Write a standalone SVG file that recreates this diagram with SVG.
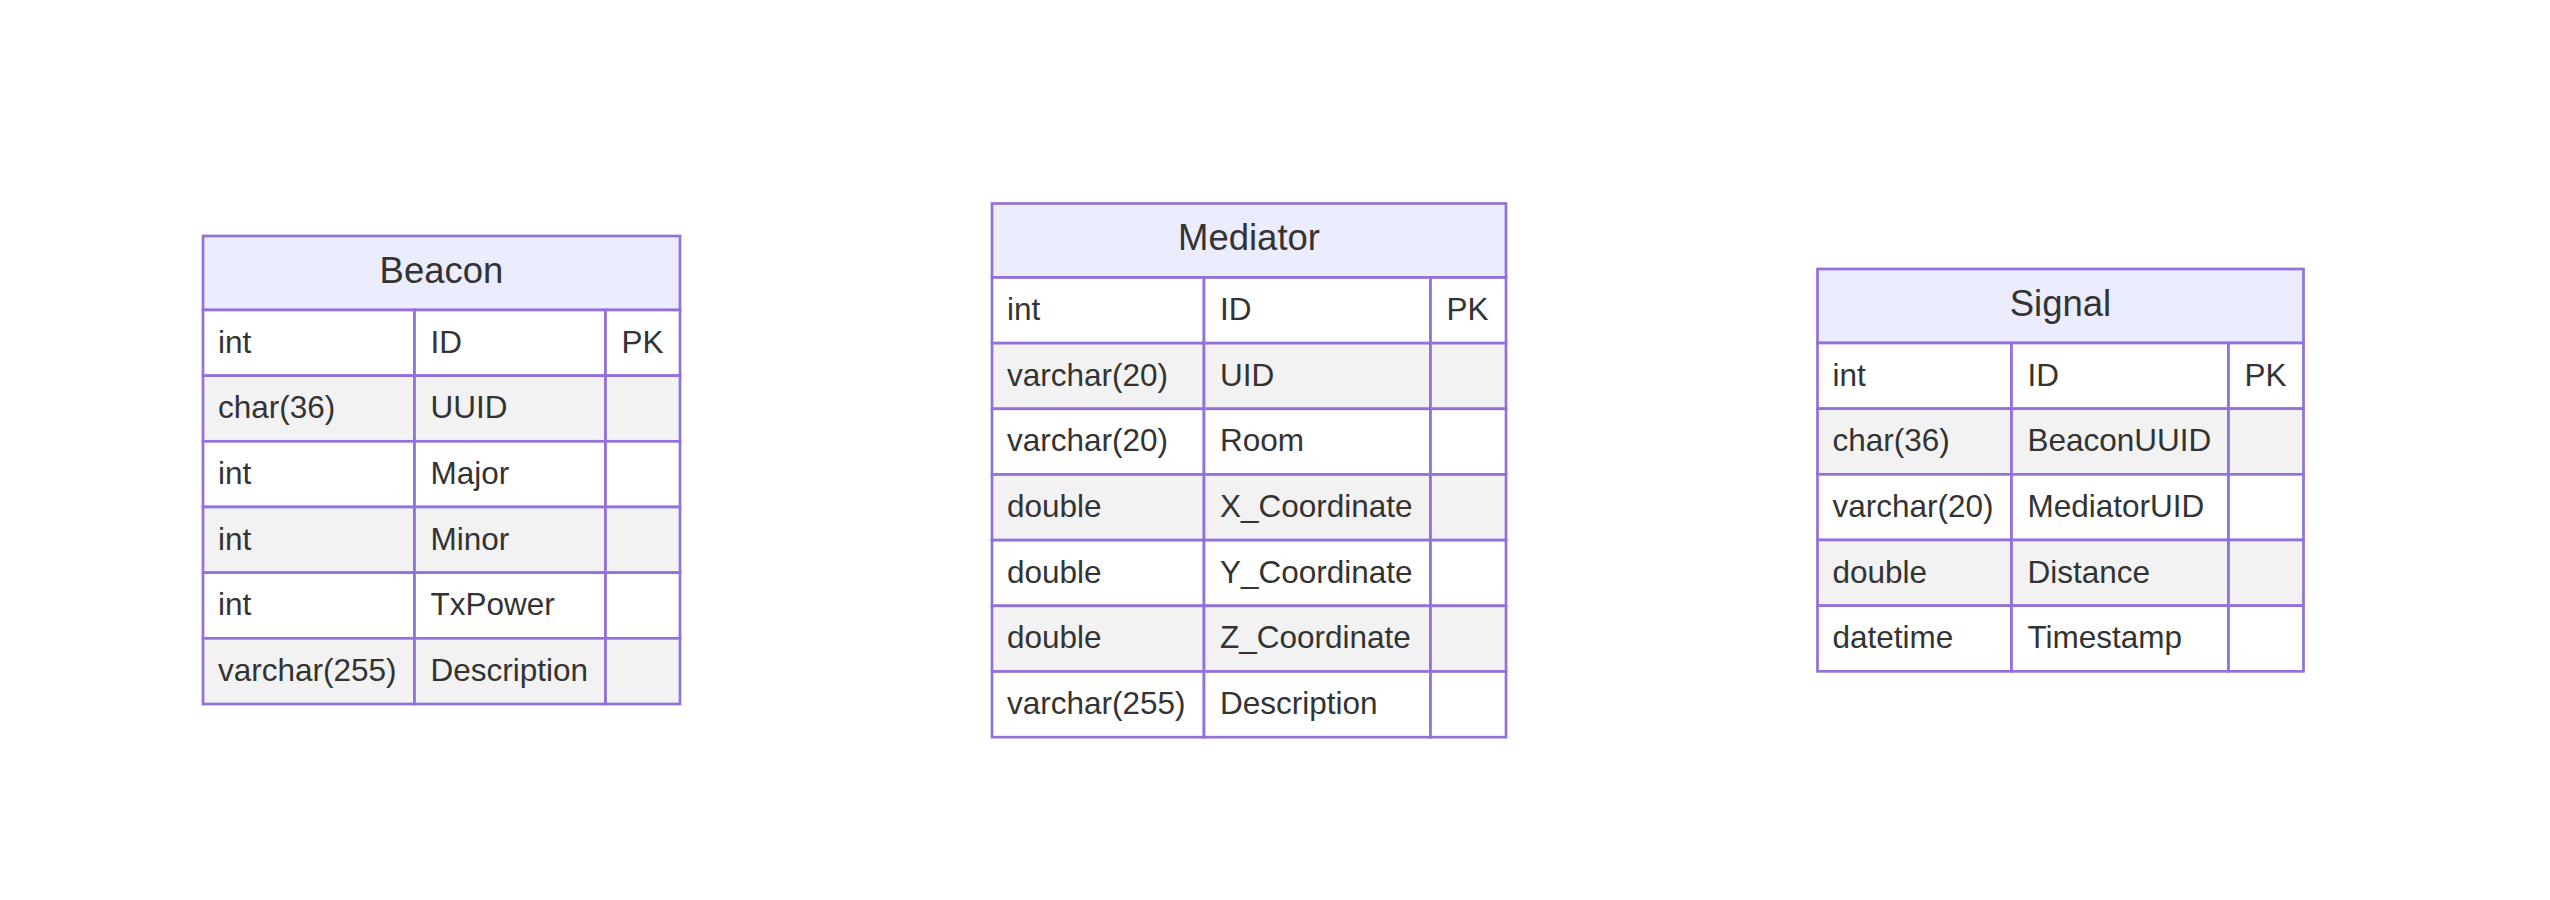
<svg xmlns="http://www.w3.org/2000/svg" width="2550" height="900" viewBox="0 0 2550 900">
<style>
.h{fill:#ECECFF;stroke:#9370DB;stroke-width:2.7}
.w{fill:#FFFFFF;stroke:#9370DB;stroke-width:2.7}
.g{fill:#F2F2F2;stroke:#9370DB;stroke-width:2.7}
.tt{font-family:"Liberation Sans",Arial,sans-serif;font-size:36.5px;fill:#333333;text-anchor:middle}
.t{font-family:"Liberation Sans",Arial,sans-serif;font-size:31.5px;fill:#333333}
</style>
<rect width="2550" height="900" fill="#FFFFFF"/>
<g id="connectors"/>
<g id="Beacon">
<rect class="h" x="203" y="236" width="477" height="74"/>
<text class="tt" x="441.5" y="282.5">Beacon</text>
<rect class="w" x="203" y="310" width="211.5" height="65.67"/><rect class="w" x="414.5" y="310" width="191" height="65.67"/><rect class="w" x="605.5" y="310" width="74.5" height="65.67"/>
<rect class="g" x="203" y="375.67" width="211.5" height="65.67"/><rect class="g" x="414.5" y="375.67" width="191" height="65.67"/><rect class="g" x="605.5" y="375.67" width="74.5" height="65.67"/>
<rect class="w" x="203" y="441.33" width="211.5" height="65.67"/><rect class="w" x="414.5" y="441.33" width="191" height="65.67"/><rect class="w" x="605.5" y="441.33" width="74.5" height="65.67"/>
<rect class="g" x="203" y="507" width="211.5" height="65.67"/><rect class="g" x="414.5" y="507" width="191" height="65.67"/><rect class="g" x="605.5" y="507" width="74.5" height="65.67"/>
<rect class="w" x="203" y="572.67" width="211.5" height="65.67"/><rect class="w" x="414.5" y="572.67" width="191" height="65.67"/><rect class="w" x="605.5" y="572.67" width="74.5" height="65.67"/>
<rect class="g" x="203" y="638.33" width="211.5" height="65.67"/><rect class="g" x="414.5" y="638.33" width="191" height="65.67"/><rect class="g" x="605.5" y="638.33" width="74.5" height="65.67"/>
<text class="t" x="218" y="352.5">int</text><text class="t" x="430.5" y="352.5">ID</text><text class="t" x="621.5" y="352.5">PK</text>
<text class="t" x="218" y="418.2">char(36)</text><text class="t" x="430.5" y="418.2">UUID</text>
<text class="t" x="218" y="483.8">int</text><text class="t" x="430.5" y="483.8">Major</text>
<text class="t" x="218" y="549.5">int</text><text class="t" x="430.5" y="549.5">Minor</text>
<text class="t" x="218" y="615.2">int</text><text class="t" x="430.5" y="615.2">TxPower</text>
<text class="t" x="218" y="680.8">varchar(255)</text><text class="t" x="430.5" y="680.8">Description</text>
</g>
<g id="Mediator">
<rect class="h" x="992" y="203.5" width="514" height="74"/>
<text class="tt" x="1249" y="250">Mediator</text>
<rect class="w" x="992" y="277.5" width="212" height="65.67"/><rect class="w" x="1204" y="277.5" width="226.5" height="65.67"/><rect class="w" x="1430.5" y="277.5" width="75.5" height="65.67"/>
<rect class="g" x="992" y="343.17" width="212" height="65.67"/><rect class="g" x="1204" y="343.17" width="226.5" height="65.67"/><rect class="g" x="1430.5" y="343.17" width="75.5" height="65.67"/>
<rect class="w" x="992" y="408.83" width="212" height="65.67"/><rect class="w" x="1204" y="408.83" width="226.5" height="65.67"/><rect class="w" x="1430.5" y="408.83" width="75.5" height="65.67"/>
<rect class="g" x="992" y="474.5" width="212" height="65.67"/><rect class="g" x="1204" y="474.5" width="226.5" height="65.67"/><rect class="g" x="1430.5" y="474.5" width="75.5" height="65.67"/>
<rect class="w" x="992" y="540.17" width="212" height="65.67"/><rect class="w" x="1204" y="540.17" width="226.5" height="65.67"/><rect class="w" x="1430.5" y="540.17" width="75.5" height="65.67"/>
<rect class="g" x="992" y="605.83" width="212" height="65.67"/><rect class="g" x="1204" y="605.83" width="226.5" height="65.67"/><rect class="g" x="1430.5" y="605.83" width="75.5" height="65.67"/>
<rect class="w" x="992" y="671.5" width="212" height="65.67"/><rect class="w" x="1204" y="671.5" width="226.5" height="65.67"/><rect class="w" x="1430.5" y="671.5" width="75.5" height="65.67"/>
<text class="t" x="1007" y="320">int</text><text class="t" x="1220" y="320">ID</text><text class="t" x="1446.5" y="320">PK</text>
<text class="t" x="1007" y="385.7">varchar(20)</text><text class="t" x="1220" y="385.7">UID</text>
<text class="t" x="1007" y="451.3">varchar(20)</text><text class="t" x="1220" y="451.3">Room</text>
<text class="t" x="1007" y="517">double</text><text class="t" x="1220" y="517">X_Coordinate</text>
<text class="t" x="1007" y="582.7">double</text><text class="t" x="1220" y="582.7">Y_Coordinate</text>
<text class="t" x="1007" y="648.3">double</text><text class="t" x="1220" y="648.3">Z_Coordinate</text>
<text class="t" x="1007" y="714">varchar(255)</text><text class="t" x="1220" y="714">Description</text>
</g>
<g id="Signal">
<rect class="h" x="1817.5" y="269" width="486" height="74"/>
<text class="tt" x="2060.5" y="315.5">Signal</text>
<rect class="w" x="1817.5" y="343" width="194" height="65.67"/><rect class="w" x="2011.5" y="343" width="217" height="65.67"/><rect class="w" x="2228.5" y="343" width="75" height="65.67"/>
<rect class="g" x="1817.5" y="408.67" width="194" height="65.67"/><rect class="g" x="2011.5" y="408.67" width="217" height="65.67"/><rect class="g" x="2228.5" y="408.67" width="75" height="65.67"/>
<rect class="w" x="1817.5" y="474.33" width="194" height="65.67"/><rect class="w" x="2011.5" y="474.33" width="217" height="65.67"/><rect class="w" x="2228.5" y="474.33" width="75" height="65.67"/>
<rect class="g" x="1817.5" y="540" width="194" height="65.67"/><rect class="g" x="2011.5" y="540" width="217" height="65.67"/><rect class="g" x="2228.5" y="540" width="75" height="65.67"/>
<rect class="w" x="1817.5" y="605.67" width="194" height="65.67"/><rect class="w" x="2011.5" y="605.67" width="217" height="65.67"/><rect class="w" x="2228.5" y="605.67" width="75" height="65.67"/>
<text class="t" x="1832.5" y="385.5">int</text><text class="t" x="2027.5" y="385.5">ID</text><text class="t" x="2244.5" y="385.5">PK</text>
<text class="t" x="1832.5" y="451.2">char(36)</text><text class="t" x="2027.5" y="451.2">BeaconUUID</text>
<text class="t" x="1832.5" y="516.8">varchar(20)</text><text class="t" x="2027.5" y="516.8">MediatorUID</text>
<text class="t" x="1832.5" y="582.5">double</text><text class="t" x="2027.5" y="582.5">Distance</text>
<text class="t" x="1832.5" y="648.2">datetime</text><text class="t" x="2027.5" y="648.2">Timestamp</text>
</g>
</svg>
